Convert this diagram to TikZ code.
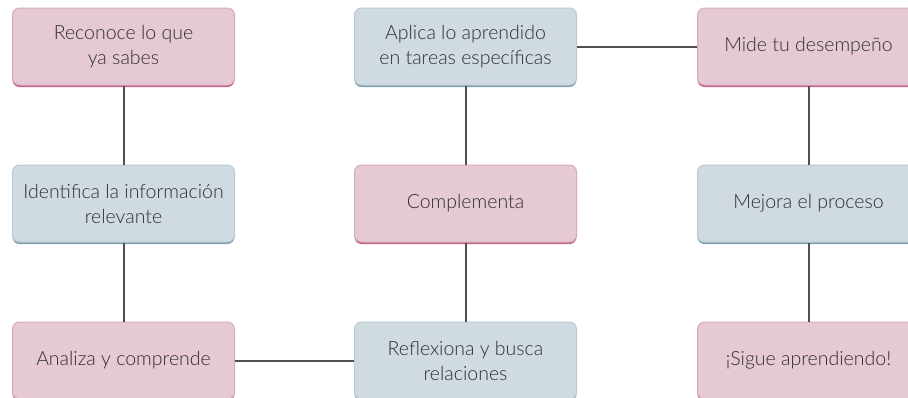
\documentclass[tikz,border=0pt]{standalone}
\usepackage{fontspec}
\setmainfont{Lato Light}
\usetikzlibrary{shadows}

\definecolor{pinkfill}{HTML}{E5C9D4}
\definecolor{pinkline}{HTML}{D9AABD}
\definecolor{pinkdark}{HTML}{C0628A}
\definecolor{bluefill}{HTML}{CFDBE1}
\definecolor{blueline}{HTML}{B8CBD4}
\definecolor{bluedark}{HTML}{7C9DAC}
\definecolor{linkgray}{HTML}{505050}
\definecolor{textgray}{HTML}{2E2E2E}

\tikzset{
  box/.style={rounded corners=7pt, minimum width=222pt, minimum height=77pt,
    align=center, text=textgray, font=\fontsize{19.5}{25}\selectfont, line width=1pt},
  pinkbox/.style={box, fill=pinkfill, draw=pinkline,
    general shadow={fill=pinkdark, shadow yshift=-2pt}},
  bluebox/.style={box, fill=bluefill, draw=blueline,
    general shadow={fill=bluedark, shadow yshift=-2pt}},
  link/.style={draw=linkgray, line width=2pt}
}

\begin{document}
\begin{tikzpicture}[x=1pt, y=1pt]
  \useasboundingbox (0,0) rectangle (908,-397);

  % first column
  \node (a1) [pinkbox] at (123.5,-46.5) {Reconoce lo que\\ya sabes};
  \node (a2) [bluebox] at (123.5,-203.5) {Identifica la información\\relevante};
  \node (a3) [pinkbox] at (123.5,-360.5) {Analiza y comprende};

  % second column
  \node (b1) [bluebox] at (465.5,-46.5) {Aplica lo aprendido\\en tareas específicas};
  \node (b2) [pinkbox] at (465.5,-203.5) {Complementa};
  \node (b3) [bluebox] at (465.5,-360.5) {Reflexiona y busca\\relaciones};

  % third column
  \node (c1) [pinkbox] at (808.5,-46.5) {Mide tu desempeño};
  \node (c2) [bluebox] at (808.5,-203.5) {Mejora el proceso};
  \node (c3) [pinkbox] at (808.5,-360.5) {¡Sigue aprendiendo!};

  \foreach \c in {a,b,c}{
    \draw [link] (\c1) -- (\c2);
    \draw [link] (\c2) -- (\c3);}
  \draw [link] (a3) -- (b3);
  \draw [link] (b1) -- (c1);
\end{tikzpicture}
\end{document}
